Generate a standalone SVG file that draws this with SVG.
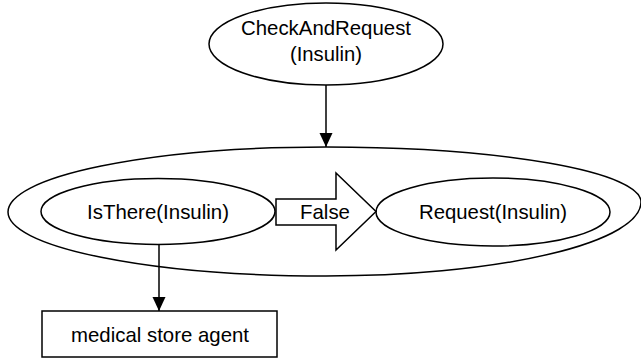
<svg xmlns="http://www.w3.org/2000/svg" width="641" height="360" viewBox="0 0 641 360">
  <defs>
    <marker id="arrow" markerWidth="15" markerHeight="14" refX="14" refY="6.5" orient="auto" markerUnits="userSpaceOnUse">
      <path d="M0,0 L14,6.5 L0,13 Z" fill="#000"/>
    </marker>
  </defs>
  <style>
    .shape { fill: #fff; stroke: #000; stroke-width: 1.5; }
    .line { fill: none; stroke: #000; stroke-width: 1.5; }
    .label { font-family: "Liberation Sans", Arial, sans-serif; font-size: 21px; fill: #000; text-anchor: middle; }
  </style>
  <rect width="641" height="360" fill="#fff"/>

  <!-- outer composite goal, drawn as four quarter arcs (right end sits a little higher) -->
  <g id="composite">
    <path class="shape" d="M8,212 A318,65 0 0 1 326,147 A315,55 0 0 1 641,202 A315,74 0 0 1 326,276 A318,64 0 0 1 8,212 Z"/>
  </g>

  <g id="checkAndRequest">
    <ellipse class="shape" cx="326" cy="44" rx="117" ry="41"/>
    <text class="label" x="326" y="35" textLength="170" lengthAdjust="spacingAndGlyphs">CheckAndRequest</text>
    <text class="label" x="326" y="61" textLength="72" lengthAdjust="spacingAndGlyphs">(Insulin)</text>
  </g>

  <g id="isThere">
    <ellipse class="shape" cx="158" cy="211.5" rx="117" ry="33"/>
    <text class="label" x="158" y="218.5" textLength="142" lengthAdjust="spacingAndGlyphs">IsThere(Insulin)</text>
  </g>

  <g id="request">
    <ellipse class="shape" cx="493" cy="212" rx="117" ry="34"/>
    <text class="label" x="493" y="218.5" textLength="148" lengthAdjust="spacingAndGlyphs">Request(Insulin)</text>
  </g>

  <g id="storeAgent">
    <rect class="shape" x="42" y="311" width="235" height="46"/>
    <text class="label" x="160" y="342" textLength="178" lengthAdjust="spacingAndGlyphs">medical store agent</text>
  </g>

  <g id="connectors">
    <line class="line" x1="326" y1="85" x2="326" y2="147" marker-end="url(#arrow)"/>
    <line class="line" x1="159" y1="244.5" x2="159" y2="311" marker-end="url(#arrow)"/>
    <!-- block arrow labelled False -->
    <path class="shape" d="M276,199 L336,199 L336,173 L376,211.5 L336,250 L336,225 L276,225 Z"/>
    <text class="label" x="325" y="218.5" textLength="50" lengthAdjust="spacingAndGlyphs">False</text>
  </g>
</svg>
